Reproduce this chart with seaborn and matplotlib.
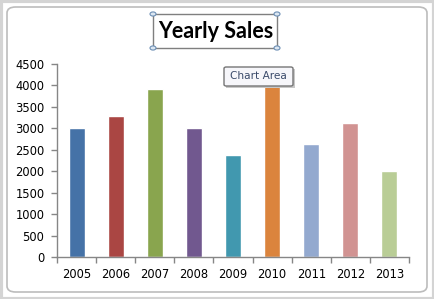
import matplotlib
matplotlib.use("Agg")
import matplotlib.pyplot as plt
import seaborn as sns
import pandas as pd
from matplotlib.patches import FancyBboxPatch, Rectangle, Circle

years = ["2005", "2006", "2007", "2008", "2009", "2010", "2011", "2012", "2013"]
sales = [3010, 3290, 3910, 3010, 2380, 4000, 2640, 3120, 2000]
colors = ["#4572A7", "#AA4643", "#89A54E", "#71588F", "#4198AF",
          "#DB843D", "#93A9CF", "#D19392", "#B9CD96"]
yticks = [0, 500, 1000, 1500, 2000, 2500, 3000, 3500, 4000, 4500]
title = "Yearly Sales"
tooltip = "Chart Area"

df = pd.DataFrame({"year": years, "sales": sales})

sns.set_theme(style="white")
plt.rcParams['font.family'] = ['DejaVu Sans']

W, H = 434, 299
fig = plt.figure(figsize=(W / 100, H / 100), dpi=100)
fig.patch.set_facecolor("white")

ax = fig.add_axes([57 / W, 1 - 257 / H, (409 - 57) / W, (257 - 64) / H])
sns.barplot(data=df, x="year", y="sales", hue="year", palette=colors,
            width=0.41, legend=False, saturation=1, ax=ax)
ax.set_xlim(-0.5, len(years) - 0.5)
ax.set_ylim(0, 4500)
ax.set_yticks(yticks)
ax.set_xlabel("")
ax.set_ylabel("")
for s in ["top", "right"]:
    ax.spines[s].set_visible(False)
for s in ["left", "bottom"]:
    ax.spines[s].set_color("#868686")
    ax.spines[s].set_linewidth(1)
ax.tick_params(axis="y", direction="out", length=4, width=1, color="#868686",
               labelsize=8.3, labelcolor="black", pad=5, left=True)
ax.tick_params(axis="x", which="major", length=0, labelsize=8.3,
               labelcolor="black", pad=8)
ax.set_xticks([i - 0.5 for i in range(len(years) + 1)], minor=True)
ax.tick_params(axis="x", which="minor", direction="out", length=4, width=1,
               color="#868686", bottom=True)
ax.set_facecolor("none")

# window frame
fig.patches.append(Rectangle((0.5 / W, 0.5 / H), (W - 1) / W, (H - 1) / H,
                             transform=fig.transFigure, facecolor="none",
                             edgecolor="#d4d4d4", linewidth=3))
fig.patches.append(FancyBboxPatch((7 / W, 7 / H), (W - 14) / W, (H - 14) / H,
                                  boxstyle="round,pad=0,rounding_size=0.02",
                                  transform=fig.transFigure, fill=False,
                                  edgecolor="#bcbcbc", linewidth=1.2))

# title with selection box
fig.text(215.5 / W, 1 - 32 / H, title, ha="center", va="center",
         fontsize=15.5, fontweight="bold", family=["Lato", "DejaVu Sans"],
         color="black")
x0, x1, y0, y1 = 153, 277, 14, 48
fig.patches.append(Rectangle((x0 / W, 1 - y1 / H), (x1 - x0) / W, (y1 - y0) / H,
                             transform=fig.transFigure, fill=False,
                             edgecolor="#7f7f7f", linewidth=1))
for cx, cy in [(x0, y0), (x1, y0), (x0, y1), (x1, y1)]:
    fig.patches.append(Circle((cx / W, 1 - cy / H), 3 / W,
                              transform=fig.transFigure, facecolor="#dbe6f1",
                              edgecolor="#6d8fb5", linewidth=0.8))

# tooltip
fig.patches.append(Rectangle((226 / W, 1 - 88 / H), 69 / W, 19 / H,
                             transform=fig.transFigure, facecolor="#c8c8c8",
                             edgecolor="none", zorder=5))
fig.patches.append(FancyBboxPatch((224 / W, 1 - 86 / H), 69 / W, 19 / H,
                                  boxstyle="round,pad=0,rounding_size=0.005",
                                  transform=fig.transFigure, facecolor="#f6f6fa",
                                  edgecolor="#767676", linewidth=1, zorder=6))
fig.text(258.5 / W, 1 - 76.5 / H, tooltip, ha="center", va="center",
         fontsize=7.6, color="#3a4a6a", zorder=7)

fig.savefig("out.png", dpi=100)
